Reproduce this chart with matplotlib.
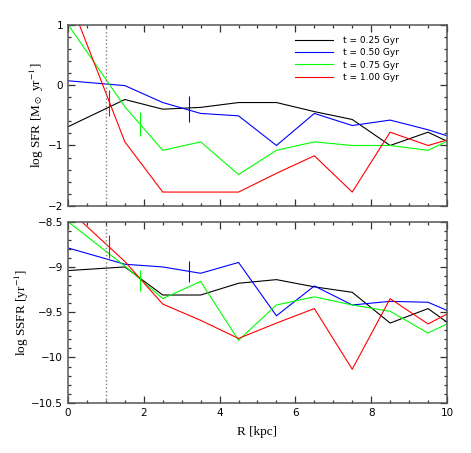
import numpy as np
import matplotlib
matplotlib.use("Agg")
import matplotlib.pyplot as plt
from matplotlib.ticker import MultipleLocator

# radial bins (kpc)
r = [0, 1.5, 2.5, 3.5, 4.5, 5.5, 6.5, 7.5, 8.5, 9.5, 10]

labels = ["t = 0.25 Gyr", "t = 0.50 Gyr", "t = 0.75 Gyr", "t = 1.00 Gyr"]
colors = ["black", "blue", "#00ff00", "red"]

# log SFR profiles
sfr_025 = [-0.69, -0.24, -0.40, -0.37, -0.29, -0.29, -0.44, -0.57, -1.00, -0.78, -0.93]
sfr_050 = [0.07, -0.01, -0.29, -0.47, -0.51, -1.00, -0.47, -0.67, -0.58, -0.74, -0.84]
sfr_075 = [1.00, -0.36, -1.08, -0.94, -1.48, -1.08, -0.94, -1.00, -1.00, -1.08, -0.93]
sfr_100 = [1.48, -0.94, -1.77, -1.77, -1.77, -1.46, -1.17, -1.77, -0.78, -1.00, -0.91]

# log SSFR profiles
ssfr_025 = [-9.04, -9.00, -9.31, -9.31, -9.18, -9.14, -9.22, -9.28, -9.62, -9.46, -9.61]
ssfr_050 = [-8.79, -8.97, -9.00, -9.07, -8.95, -9.54, -9.21, -9.42, -9.38, -9.39, -9.48]
ssfr_075 = [-8.50, -8.99, -9.35, -9.16, -9.81, -9.42, -9.33, -9.42, -9.49, -9.73, -9.63]
ssfr_100 = [-8.36, -8.94, -9.41, -9.59, -9.79, -9.62, -9.46, -10.13, -9.35, -9.63, -9.52]

# typical error bars (t = 0.50, 0.75, 1.00 Gyr)
err_x = [3.2, 1.9, 1.09]
err_colors = ["blue", "#00ff00", "red"]
sfr_err_y = [-0.40, -0.65, -0.30]
sfr_err = [0.21, 0.20, 0.21]
ssfr_err_y = [-9.05, -9.15, -8.775]
ssfr_err = [0.12, 0.12, 0.125]

r_inner = 1.0

plt.rcParams['font.family'] = ['DejaVu Sans']
plt.rcParams['mathtext.fontset'] = 'stix'

fig = plt.figure(figsize=(4.71, 4.53), dpi=100)
ax1 = fig.add_axes([0.1444, 0.5453, 0.8046, 0.4006])
ax2 = fig.add_axes([0.1444, 0.111, 0.8046, 0.3996])

sfr = [sfr_025, sfr_050, sfr_075, sfr_100]
ssfr = [ssfr_025, ssfr_050, ssfr_075, ssfr_100]

for y, c, lab in zip(sfr, colors, labels):
    ax1.plot(r, y, color=c, lw=0.8, label=lab)
for y, c in zip(ssfr, colors):
    ax2.plot(r, y, color=c, lw=0.8)

for x, y, e, c in zip(err_x, sfr_err_y, sfr_err, err_colors):
    ax1.errorbar(x, y, yerr=e, color=c, lw=0.8, capsize=0, fmt='none')
for x, y, e, c in zip(err_x, ssfr_err_y, ssfr_err, err_colors):
    ax2.errorbar(x, y, yerr=e, color=c, lw=0.8, capsize=0, fmt='none')

for ax in (ax1, ax2):
    ax.axvline(r_inner, color='gray', ls=':', lw=1.0)
    ax.set_xlim(0, 10)
    ax.xaxis.set_major_locator(MultipleLocator(2))
    ax.xaxis.set_minor_locator(MultipleLocator(0.5))
    ax.tick_params(which='both', direction='in', top=True, right=True,
                   labelsize=7.5, color='#333333', width=0.9)
    ax.tick_params(which='major', length=5)
    ax.tick_params(which='minor', length=2.5)
    for s in ax.spines.values():
        s.set_color('#555555')
        s.set_linewidth(1.1)

ax1.set_ylim(-2, 1)
ax1.set_yticks([1, 0, -1, -2])
ax1.set_yticklabels(['1', '0', '\u22121', '\u22122'])
ax1.yaxis.set_minor_locator(MultipleLocator(0.2))
ax1.tick_params(labelbottom=False)
ax1.set_ylabel(r'log SFR [M$_\odot$ yr$^{-1}$]', family='Liberation Serif', fontsize=9.5, labelpad=1.5)

ax2.set_ylim(-10.5, -8.5)
ax2.set_yticks([-8.5, -9, -9.5, -10, -10.5])
ax2.set_yticklabels(['\u22128.5', '\u22129', '\u22129.5', '\u221210', '\u221210.5'])
ax2.yaxis.set_minor_locator(MultipleLocator(0.1))
ax2.set_ylabel(r'log SSFR [yr$^{-1}$]', family='Liberation Serif', fontsize=9.5, labelpad=0)
ax2.set_xlabel('R [kpc]', family='Liberation Serif', fontsize=9.5, labelpad=6)

ax1.legend(loc='upper left', bbox_to_anchor=(0.599, 0.935), frameon=False,
           fontsize=6.5, handlelength=4.2, handletextpad=1.1, labelspacing=0.35,
           borderpad=0, borderaxespad=0)

fig.savefig('out.png', dpi=100)
